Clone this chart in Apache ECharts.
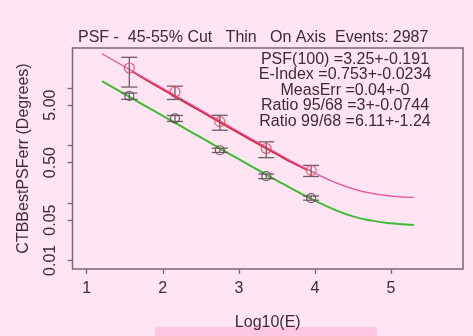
<!DOCTYPE html>
<html>
<head>
<meta charset="utf-8">
<script src="https://cdn.jsdelivr.net/npm/echarts@6/dist/echarts.min.js"></script>
<style>
html, body { margin: 0; padding: 0; background: #ffe4f2; }
#main { width: 473px; height: 336px; }
</style>
</head>
<body>
<div id="main"></div>
<script>
// fitted curves (log10(E) vs degrees)
var curveX = [1.2, 1.5, 1.75, 2, 2.25, 2.5, 2.75, 3, 3.25, 3.5, 3.75, 4, 4.25, 4.5, 4.75, 5, 5.3];
var psf68Curve = [13.0, 7.73, 5.01, 3.25, 2.11, 1.37, 0.885, 0.574, 0.374, 0.244, 0.161, 0.109, 0.077, 0.058, 0.049, 0.044, 0.041];
var psf95Curve = [39.0, 23.2, 15.0, 9.75, 6.32, 4.10, 2.66, 1.72, 1.12, 0.73, 0.48, 0.33, 0.23, 0.175, 0.146, 0.131, 0.124];
var fitX = [1.6, 1.75, 2, 2.25, 2.5, 2.75, 3, 3.25, 3.5, 3.75, 3.9];
var fit95 = [19.2, 14.6, 9.4, 6.05, 3.92, 2.53, 1.64, 1.07, 0.70, 0.465, 0.375];

// measured points
var pointX = [1.56, 2.16, 2.75, 3.36, 3.95];
var psf95 = [22.1, 8.47, 2.58, 0.88, 0.367];
var psf95Err = [11.8, 2.2, 0.75, 0.27, 0.08];
var psf68 = [7.2, 2.95, 0.82, 0.29, 0.121];
var psf68Err = [0.9, 0.35, 0.07, 0.027, 0.01];

var xTicks = [1, 2, 3, 4, 5];
var yTicks = [0.01, 0.05, 0.1, 0.5, 1, 5, 10];
var yLabels = [0.01, 0.05, 0.5, 5];

var titleText = 'PSF -  45-55% Cut   Thin   On Axis  Events: 2987';
var fitNotes = ['PSF(100) =3.25+-0.191', 'E-Index =0.753+-0.0234', 'MeasErr =0.04+-0',
    'Ratio 95/68 =3+-0.0744', 'Ratio 99/68 =6.11+-1.24'];

var font = "'Liberation Sans', Arial, sans-serif";
var ink = '#3c2c36';
var frame = '#7d6573';

function lg(v) { return Math.log10(v); }

function pairs(xs, ys) {
    return xs.map(function (x, i) { return [x, lg(ys[i])]; });
}

function bars(xs, ys, es) {
    return xs.map(function (x, i) { return [x, lg(ys[i] - es[i]), lg(ys[i] + es[i])]; });
}

function drawBar(params, api) {
    var lo = api.coord([api.value(0), api.value(1)]);
    var hi = api.coord([api.value(0), api.value(2)]);
    var w = 8;
    var st = { stroke: '#6e5e68', lineWidth: 1.3 };
    return {
        type: 'group',
        children: [
            { type: 'line', shape: { x1: lo[0], y1: lo[1], x2: hi[0], y2: hi[1] }, style: st },
            { type: 'line', shape: { x1: lo[0] - w, y1: lo[1], x2: lo[0] + w, y2: lo[1] }, style: st },
            { type: 'line', shape: { x1: hi[0] - w, y1: hi[1], x2: hi[0] + w, y2: hi[1] }, style: st }
        ]
    };
}

var myChart = echarts.init(document.getElementById('main'));
var option = {
    backgroundColor: '#ffe4f2',
    animation: false,
    textStyle: { fontFamily: font, color: ink },
    grid: {
        left: 72.5, right: 10, top: 48, bottom: 63.5,
        show: true, borderColor: frame, borderWidth: 1.5, backgroundColor: 'transparent'
    },
    graphic: [
        { type: 'rect', z: 0, shape: { x: 155, y: 327, width: 222, height: 9 }, style: { fill: '#ffc6e4' } },
        { type: 'text', z: 10, x: 78, y: 38, style: { text: titleText, font: '16px ' + font, fill: ink, textVerticalAlign: 'middle' } },
        { type: 'text', z: 10, x: 345, y: 51.5, style: { text: fitNotes.join('\n'), font: '16px ' + font, fill: ink, textAlign: 'center', lineHeight: 15.5 } }
    ],
    xAxis: {
        type: 'value', min: 0.813, max: 5.947,
        name: 'Log10(E)', nameLocation: 'middle', nameGap: 46,
        nameTextStyle: { fontSize: 16, color: ink, fontFamily: font },
        axisLine: { show: false, onZero: false },
        splitLine: { show: false },
        axisTick: { show: true, inside: false, length: 5, lineStyle: { color: frame, width: 1.3 }, customValues: xTicks },
        axisLabel: { fontSize: 16, color: ink, margin: 12, customValues: xTicks }
    },
    yAxis: {
        type: 'value', min: -2.151, max: 1.692,
        name: 'CTBBestPSFerr (Degrees)', nameLocation: 'middle', nameGap: 41, nameRotate: 90,
        nameTextStyle: { fontSize: 16, color: ink, fontFamily: font },
        axisLine: { show: false, onZero: false },
        splitLine: { show: false },
        axisTick: { show: true, inside: false, length: 5, lineStyle: { color: frame, width: 1.3 }, customValues: yTicks.map(lg) },
        axisLabel: {
            fontSize: 16, color: ink, margin: 14, rotate: 90,
            customValues: yLabels.map(lg),
            formatter: function (v) { return Math.pow(10, v).toFixed(2); }
        }
    },
    series: [
        {
            name: 'fit68', type: 'line', data: pairs(curveX, psf68Curve), smooth: true,
            showSymbol: false, lineStyle: { color: '#3dbb35', width: 2 }, z: 2
        },
        {
            name: 'fit95', type: 'line', data: pairs(curveX, psf95Curve), smooth: true,
            showSymbol: false, lineStyle: { color: '#e4509a', width: 1.3 }, z: 3
        },
        {
            name: 'fit95data', type: 'line', data: pairs(fitX, fit95), smooth: true,
            showSymbol: false, lineStyle: { color: '#e02238', width: 2 }, z: 2
        },
        {
            name: 'err95', type: 'custom', data: bars(pointX, psf95, psf95Err),
            encode: { x: 0, y: [1, 2] }, renderItem: drawBar, z: 4
        },
        {
            name: 'err68', type: 'custom', data: bars(pointX, psf68, psf68Err),
            encode: { x: 0, y: [1, 2] }, renderItem: drawBar, z: 4
        },
        {
            name: 'psf95', type: 'scatter', data: pairs(pointX, psf95), symbolSize: 10,
            itemStyle: { color: 'transparent', borderColor: '#e8404e', borderWidth: 1.2 }, z: 5
        },
        {
            name: 'psf68', type: 'scatter', data: pairs(pointX, psf68), symbolSize: 9,
            itemStyle: { color: 'transparent', borderColor: '#4a3a44', borderWidth: 1.2 }, z: 5
        }
    ]
};
myChart.setOption(option);
</script>
</body>
</html>
